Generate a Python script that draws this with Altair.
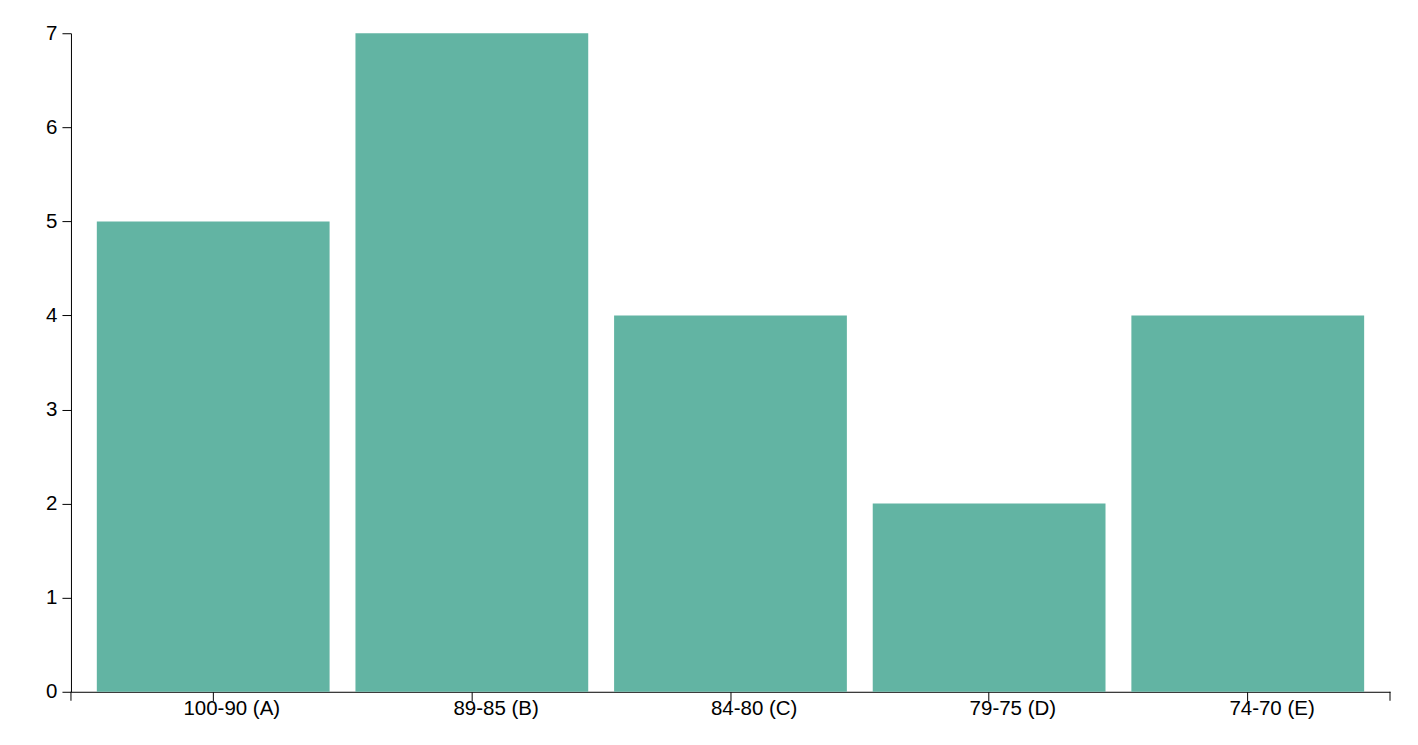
import altair as alt
import pandas as pd

categories = ["100-90 (A)", "89-85 (B)", "84-80 (C)", "79-75 (D)", "74-70 (E)"]
counts = [5, 7, 4, 2, 4]

df = pd.DataFrame({"grade": categories, "count": counts})

W, H = 1320, 659
FONT = "Liberation Sans"
FS = 20.5

bars = alt.Chart(df).mark_bar(color="#62b4a3").encode(
    x=alt.X("grade:N", sort=categories,
            scale=alt.Scale(paddingInner=0.1, paddingOuter=0.1),
            axis=alt.Axis(title=None, labelAngle=0, labelAlign="right", labelOffset=67,
                          labelFontSize=FS, labelFont=FONT, labelColor="black",
                          labelPadding=-2, tickSize=9, tickColor="black",
                          domainColor="black", labelBaseline="top")),
    y=alt.Y("count:Q", scale=alt.Scale(domain=[0, 7], nice=False),
            axis=alt.Axis(title=None, values=list(range(8)), grid=False,
                          labelFontSize=FS, labelFont=FONT, labelColor="black",
                          labelPadding=5, tickSize=9, tickColor="black",
                          domainColor="black")),
)

end_ticks = alt.Chart(pd.DataFrame({"p": [0, W]})).mark_rule(color="black", strokeWidth=1).encode(
    x=alt.X("p:Q", scale=alt.Scale(domain=[0, W], range=[0, W]), axis=None),
    y=alt.value(H),
    y2=alt.value(H + 9),
)

chart = alt.layer(bars, end_ticks).resolve_scale(x="independent").properties(
    width=W, height=H,
    autosize="none",
    padding={"left": 63, "top": 25, "right": 20, "bottom": 40},
    background="white",
).configure_view(strokeWidth=0, stroke=None)

chart.save("out.html", embed_options={"renderer": "svg", "actions": False})
